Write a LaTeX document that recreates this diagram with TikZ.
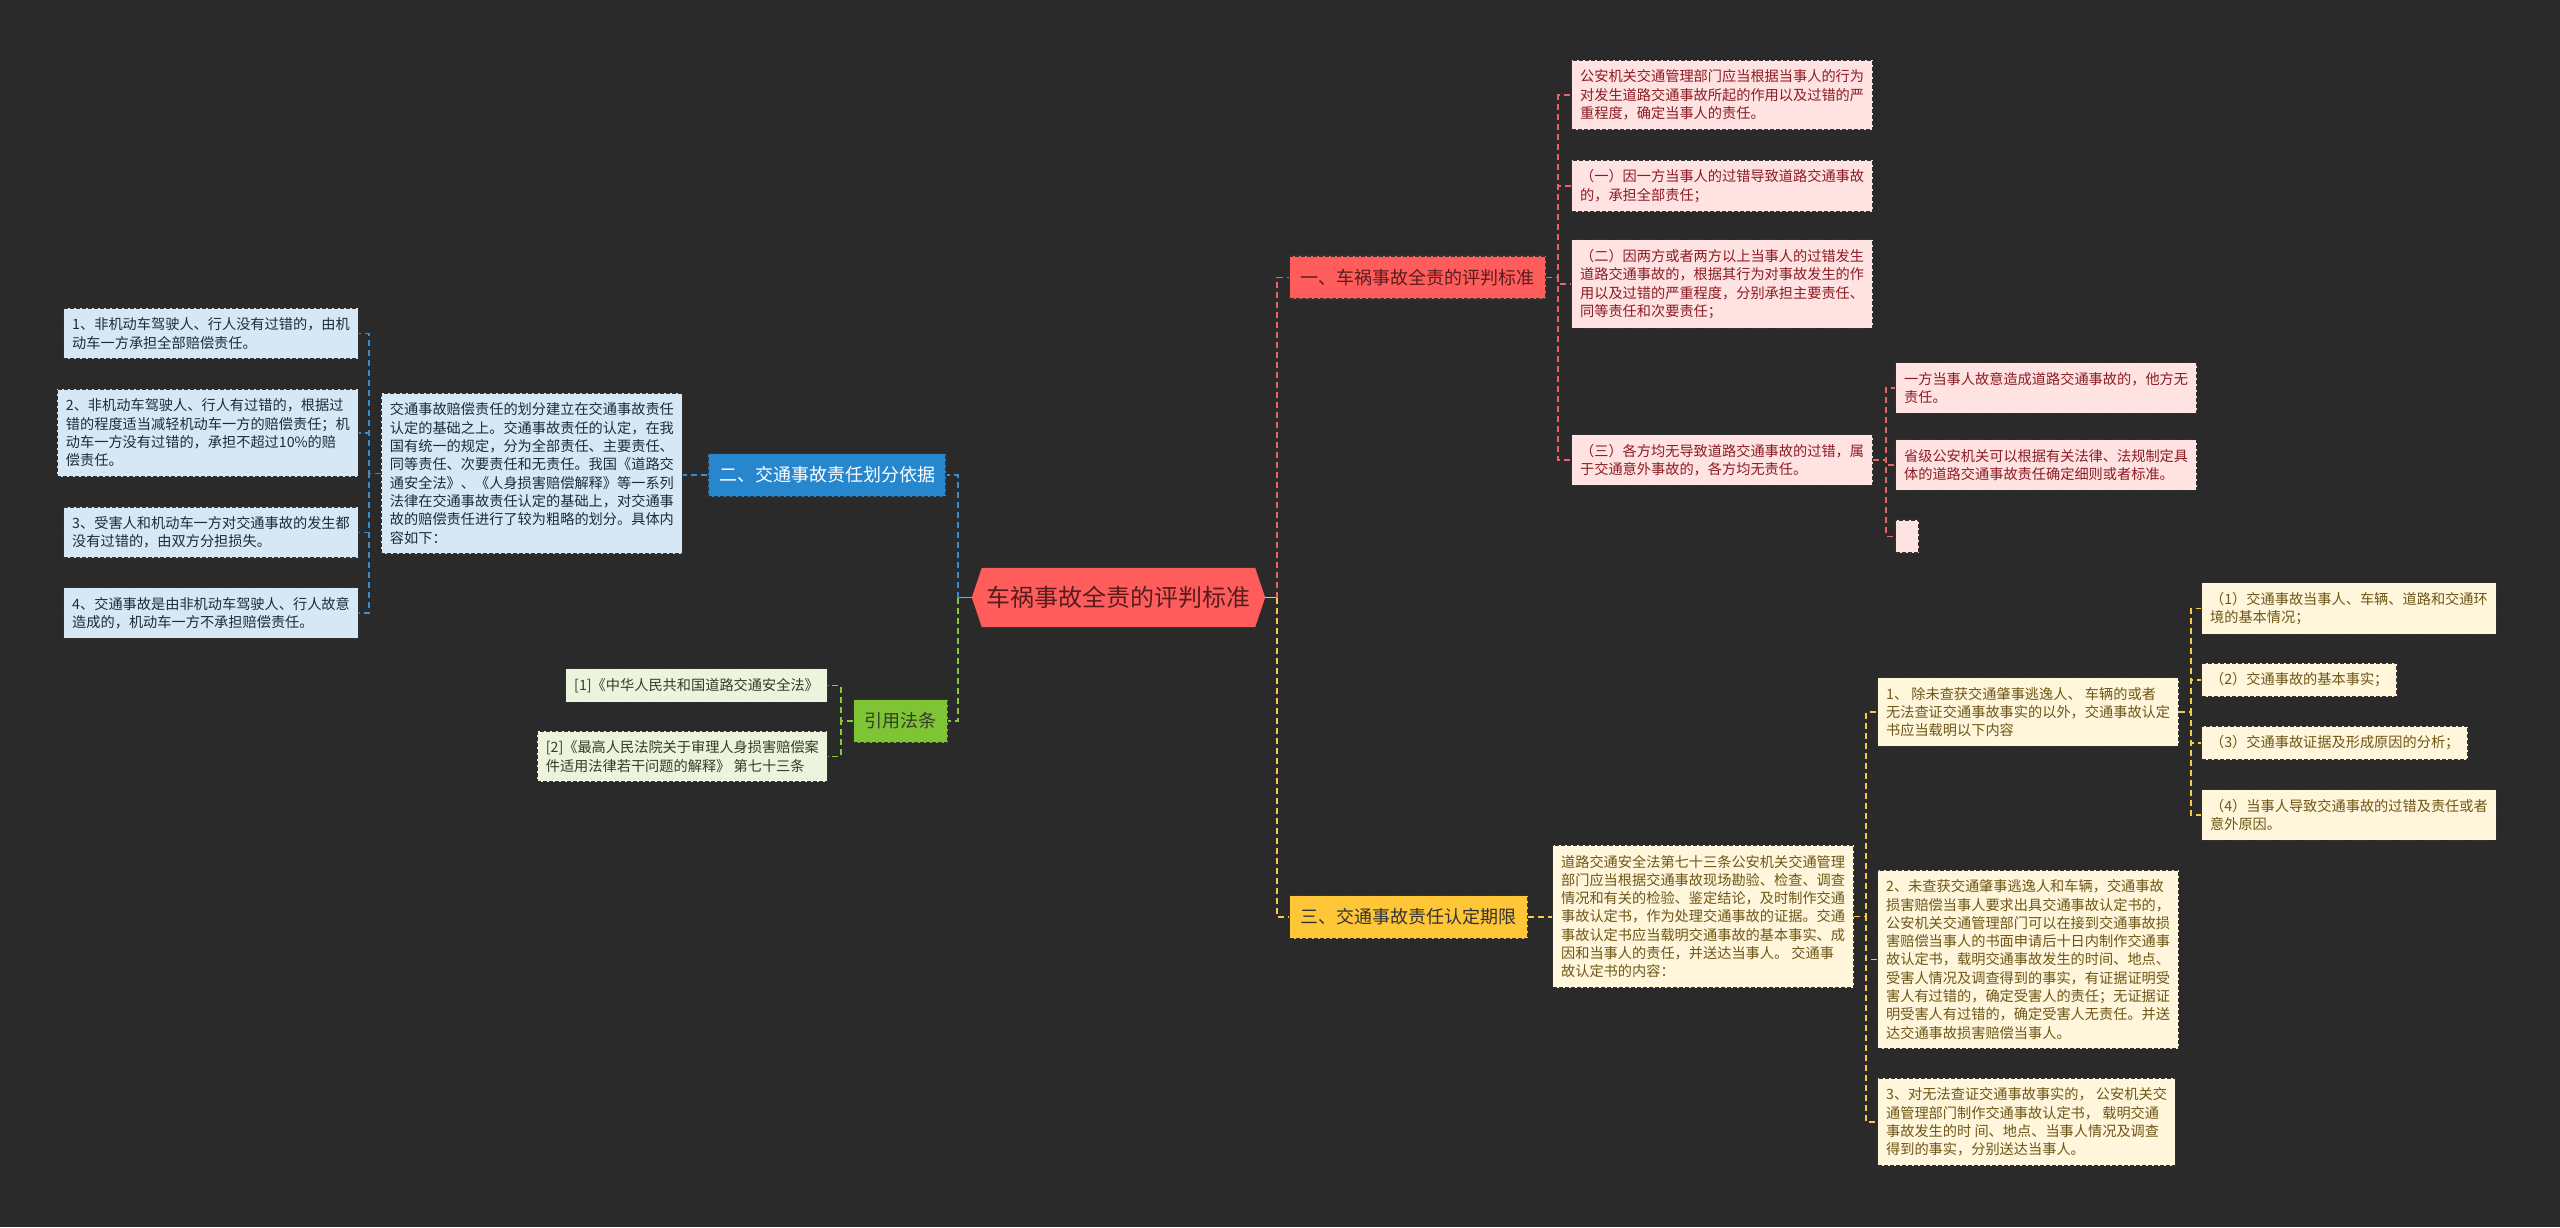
\documentclass[tikz,border=0pt]{standalone}
\usepackage{fontspec}
\setmainfont{Noto Sans CJK SC}
\usetikzlibrary{backgrounds}

\definecolor{bgdark}{RGB}{42,42,42}
\definecolor{boxedge}{RGB}{50,50,50}
\definecolor{rootred}{RGB}{255,92,92}
\definecolor{roottext}{RGB}{88,28,28}
\definecolor{redleaf}{RGB}{255,226,226}
\definecolor{redtext}{RGB}{140,28,36}
\definecolor{redline}{RGB}{232,100,104}
\definecolor{blueme}{RGB}{38,134,206}
\definecolor{blueleaf}{RGB}{214,232,246}
\definecolor{bluetext}{RGB}{30,42,56}
\definecolor{blueline}{RGB}{52,142,212}
\definecolor{greenme}{RGB}{126,196,52}
\definecolor{greenleaf}{RGB}{236,244,222}
\definecolor{greentext}{RGB}{52,60,40}
\definecolor{greenline}{RGB}{140,200,60}
\definecolor{yellowme}{RGB}{255,198,56}
\definecolor{yellowleaf}{RGB}{255,246,220}
\definecolor{yellowtext}{RGB}{110,86,22}
\definecolor{yellowline}{RGB}{246,204,70}

\tikzset{
  box/.style={draw=boxedge, line width=1.2pt, dash pattern=on 4pt off 2pt,
    align=left, inner xsep=8.5pt, inner ysep=9.5pt,
    font=\fontsize{14.2pt}{18.3pt}\selectfont},
  topic/.style={draw=boxedge, line width=1.2pt, dash pattern=on 4pt off 2pt,
    minimum height=43pt, inner xsep=11pt, inner ysep=0pt,
    font=\fontsize{18pt}{22pt}\selectfont},
  redbox/.style={box, fill=redleaf, text=redtext},
  bluebox/.style={box, fill=blueleaf, text=bluetext},
  greenbox/.style={box, fill=greenleaf, text=greentext},
  yellowbox/.style={box, fill=yellowleaf, text=yellowtext},
  link/.style={line width=1.8pt, dash pattern=on 6pt off 4pt},
}

\begin{document}
\begin{tikzpicture}[x=1pt,y=-1pt]
  \useasboundingbox (0,0) rectangle (2560,1227);
  \begin{pgfonlayer}{background}
    \fill[bgdark] (0,0) rectangle (2560,1227);
  \end{pgfonlayer}

  % centre
  \node[minimum width=293pt, minimum height=59pt, inner sep=0pt, text=roottext,
    font=\fontsize{24pt}{28pt}\selectfont] (root) at (1118.5,597.5) {车祸事故全责的评判标准};
  \begin{pgfonlayer}{background}
    \fill[rootred] (root.west) -- ([xshift=10pt]root.north west) -- ([xshift=-10pt]root.north east)
      -- (root.east) -- ([xshift=-10pt]root.south east) -- ([xshift=10pt]root.south west) -- cycle;
  \end{pgfonlayer}

  % main topics
  \node[topic, fill=rootred, text=roottext] (rule) at (1417.5,277.5) {一、车祸事故全责的评判标准};
  \node[topic, fill=yellowme, text=black!80] (term) at (1408.5,917) {三、交通事故责任认定期限};
  \node[topic, fill=blueme, text=white] (basis) at (827,475) {二、交通事故责任划分依据};
  \node[topic, fill=greenme, text=greentext] (laws) at (900.5,721) {引用法条};

  % red branch
  \node[redbox, anchor=west] (ra) at (1571,95) {公安机关交通管理部门应当根据当事人的行为\\对发生道路交通事故所起的作用以及过错的严\\重程度，确定当事人的责任。};
  \node[redbox, anchor=west] (rb) at (1571,186) {（一）因一方当事人的过错导致道路交通事故\\的，承担全部责任；};
  \node[redbox, anchor=west] (rc) at (1571,284) {（二）因两方或者两方以上当事人的过错发生\\道路交通事故的，根据其行为对事故发生的作\\用以及过错的严重程度，分别承担主要责任、\\同等责任和次要责任；};
  \node[redbox, anchor=west] (rd) at (1571,460) {（三）各方均无导致道路交通事故的过错，属\\于交通意外事故的，各方均无责任。};
  \node[redbox, anchor=west] (rd1) at (1895,388) {一方当事人故意造成道路交通事故的，他方无\\责任。};
  \node[redbox, anchor=west] (rd2) at (1895,465) {省级公安机关可以根据有关法律、法规制定具\\体的道路交通事故责任确定细则或者标准。};
  \node[redbox, anchor=west, minimum width=23pt, minimum height=33pt, inner sep=0pt] (rd3) at (1895,536.5) {};

  % blue branch
  \node[bluebox, anchor=east] (bb) at (683,473.5) {交通事故赔偿责任的划分建立在交通事故责任\\认定的基础之上。交通事故责任的认定，在我\\国有统一的规定，分为全部责任、主要责任、\\同等责任、次要责任和无责任。我国《道路交\\通安全法》、《人身损害赔偿解释》等一系列\\法律在交通事故责任认定的基础上，对交通事\\故的赔偿责任进行了较为粗略的划分。具体内\\容如下：};
  \node[bluebox, anchor=east] (b1) at (359,333.5) {1、非机动车驾驶人、行人没有过错的，由机\\动车一方承担全部赔偿责任。};
  \node[bluebox, anchor=east] (b2) at (359,433) {2、非机动车驾驶人、行人有过错的，根据过\\错的程度适当减轻机动车一方的赔偿责任；机\\动车一方没有过错的，承担不超过10\%的赔\\偿责任。};
  \node[bluebox, anchor=east] (b3) at (359,532.5) {3、受害人和机动车一方对交通事故的发生都\\没有过错的，由双方分担损失。};
  \node[bluebox, anchor=east] (b4) at (359,613) {4、交通事故是由非机动车驾驶人、行人故意\\造成的，机动车一方不承担赔偿责任。};

  % green branch
  \node[greenbox, anchor=east] (g1) at (828,685.5) {[1]《中华人民共和国道路交通安全法》};
  \node[greenbox, anchor=east] (g2) at (828,756.5) {[2]《最高人民法院关于审理人身损害赔偿案\\件适用法律若干问题的解释》 第七十三条};

  % yellow branch
  \node[yellowbox, anchor=west] (y0) at (1552,916.5) {道路交通安全法第七十三条公安机关交通管理\\部门应当根据交通事故现场勘验、检查、调查\\情况和有关的检验、鉴定结论，及时制作交通\\事故认定书，作为处理交通事故的证据。交通\\事故认定书应当载明交通事故的基本事实、成\\因和当事人的责任，并送达当事人。 交通事\\故认定书的内容：};
  \node[yellowbox, anchor=west] (y1) at (1877,712) {1、 除未查获交通肇事逃逸人、 车辆的或者\\无法查证交通事故事实的以外，交通事故认定\\书应当载明以下内容};
  \node[yellowbox, anchor=west] (y2) at (1877,959.5) {2、未查获交通肇事逃逸人和车辆，交通事故\\损害赔偿当事人要求出具交通事故认定书的，\\公安机关交通管理部门可以在接到交通事故损\\害赔偿当事人的书面申请后十日内制作交通事\\故认定书，载明交通事故发生的时间、地点、\\受害人情况及调查得到的事实，有证据证明受\\害人有过错的，确定受害人的责任；无证据证\\明受害人有过错的，确定受害人无责任。并送\\达交通事故损害赔偿当事人。};
  \node[yellowbox, anchor=west] (y3) at (1877,1122) {3、对无法查证交通事故事实的， 公安机关交\\通管理部门制作交通事故认定书， 载明交通\\事故发生的时 间、地点、当事人情况及调查\\得到的事实，分别送达当事人。};
  \node[yellowbox, anchor=west] (c1) at (2201,608.5) {（1）交通事故当事人、车辆、道路和交通环\\境的基本情况；};
  \node[yellowbox, anchor=west] (c2) at (2201,680) {（2）交通事故的基本事实；};
  \node[yellowbox, anchor=west] (c3) at (2201,743) {（3）交通事故证据及形成原因的分析；};
  \node[yellowbox, anchor=west] (c4) at (2201,815) {（4）当事人导致交通事故的过错及责任或者\\意外原因。};

  % trunks
  \coordinate (rtr) at ([xshift=12pt]root.east);
  \coordinate (ltr) at ([xshift=-14pt]root.west);
  \draw[yellowline, line width=1.8pt] (root.east) -- (rtr);
  \draw[greenline, line width=1.8pt] (root.west) -- (ltr);
  \draw[link, redline] (rtr) |- (rule.west);
  \draw[link, yellowline] (rtr) |- (term.west);
  \draw[link, blueline] (ltr) |- (basis.east);
  \draw[link, greenline] (ltr) |- (laws.east);

  % red links
  \foreach \leaf in {ra,rb,rc,rd}
    \draw[link, redline] (rule.east) -- ++(12pt,0) |- (\leaf.west);
  \foreach \leaf in {rd1,rd2,rd3}
    \draw[link, redline] (rd.east) -- ++(13pt,0) |- (\leaf.west);

  % blue links
  \draw[link, blueline] (basis.west) -- (basis.west -| bb.east);
  \foreach \leaf in {b1,b2,b3,b4}
    \draw[link, blueline] (bb.west) -- ++(-12pt,0) |- (\leaf.east);

  % green links
  \foreach \leaf in {g1,g2}
    \draw[link, greenline] (laws.west) -- ++(-12pt,0) |- (\leaf.east);

  % yellow links
  \draw[link, yellowline] (term.east) -- (term.east -| y0.west);
  \foreach \leaf in {y1,y2,y3}
    \draw[link, yellowline] (y0.east) -- ++(12pt,0) |- (\leaf.west);
  \foreach \leaf in {c1,c2,c3,c4}
    \draw[link, yellowline] (y1.east) -- ++(12pt,0) |- (\leaf.west);
\end{tikzpicture}
\end{document}
